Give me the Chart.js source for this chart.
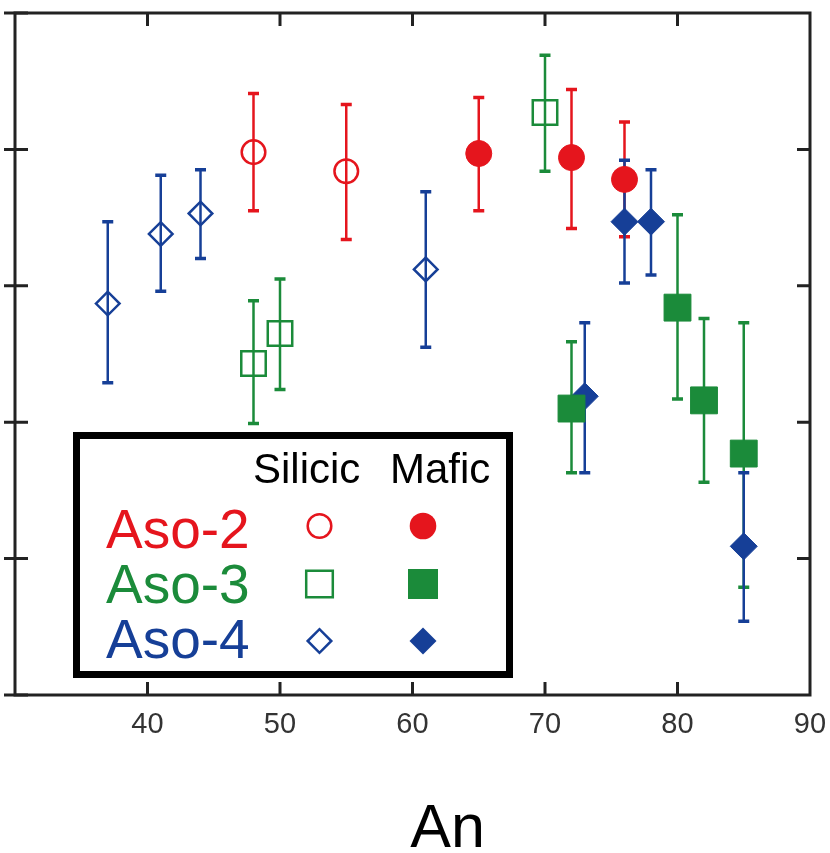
<!DOCTYPE html>
<html>
<head>
<meta charset="utf-8">
<script src="https://cdn.jsdelivr.net/npm/chart.js"></script>
<style>
  html, body { margin: 0; padding: 0; background: #fff; }
  #wrap { width: 830px; height: 853px; }
</style>
</head>
<body>
<div id="wrap"><canvas id="myChart" width="830" height="853"></canvas></div>
<script>
// values (y axis has no visible labels, 0..5 arbitrary units)
const xTickLabels = [40, 50, 60, 70, 80, 90];

const aso2SilicicX = [48, 55];
const aso2SilicicY = [3.98, 3.84];
const aso2SilicicLo = [3.55, 3.34];
const aso2SilicicHi = [4.41, 4.33];

const aso2MaficX = [65, 72, 76];
const aso2MaficY = [3.97, 3.94, 3.78];
const aso2MaficLo = [3.55, 3.42, 3.36];
const aso2MaficHi = [4.38, 4.44, 4.20];

const aso3SilicicX = [48, 50, 70];
const aso3SilicicY = [2.43, 2.65, 4.27];
const aso3SilicicLo = [1.99, 2.24, 3.84];
const aso3SilicicHi = [2.89, 3.05, 4.69];

const aso3MaficX = [72, 80, 82, 85];
const aso3MaficY = [2.10, 2.84, 2.16, 1.77];
const aso3MaficLo = [1.63, 2.17, 1.56, 0.79];
const aso3MaficHi = [2.59, 3.52, 2.76, 2.73];

const aso4SilicicX = [37, 41, 44, 61];
const aso4SilicicY = [2.87, 3.38, 3.53, 3.12];
const aso4SilicicLo = [2.29, 2.96, 3.20, 2.55];
const aso4SilicicHi = [3.47, 3.81, 3.85, 3.69];

const aso4MaficX = [73, 76, 78, 85];
const aso4MaficY = [2.19, 3.47, 3.47, 1.09];
const aso4MaficLo = [1.63, 3.02, 3.08, 0.54];
const aso4MaficHi = [2.73, 3.92, 3.85, 1.63];

const RED = "#e5151d";
const GREEN = "#1b8b3a";
const BLUE = "#163f97";
const FONT = "'Liberation Sans', Arial, sans-serif";

function points(xs, ys, lo, hi) {
  return xs.map((x, i) => ({ x: x, y: ys[i], lo: lo[i], hi: hi[i] }));
}

// error bars under the markers, frame/ticks/legend on top
const errorBars = {
  id: "errorBars",
  beforeDatasetsDraw(chart) {
    const { ctx, scales: { x, y } } = chart;
    ctx.save();
    chart.data.datasets.forEach(ds => {
      ctx.strokeStyle = ds.barColor;
      ds.data.forEach(p => {
        const px = x.getPixelForValue(p.x);
        const top = y.getPixelForValue(p.hi);
        const bot = y.getPixelForValue(p.lo);
        ctx.lineWidth = 2.5;
        ctx.beginPath();
        ctx.moveTo(px, top);
        ctx.lineTo(px, bot);
        ctx.stroke();
        ctx.lineWidth = 3.5;
        ctx.beginPath();
        ctx.moveTo(px - 5.5, top); ctx.lineTo(px + 5.5, top);
        ctx.moveTo(px - 5.5, bot); ctx.lineTo(px + 5.5, bot);
        ctx.stroke();
      });
    });
    ctx.restore();
  }
};

function marker(ctx, kind, filled, color, cx, cy) {
  ctx.save();
  ctx.fillStyle = color;
  ctx.strokeStyle = color;
  ctx.lineWidth = 2.5;
  ctx.beginPath();
  if (kind === "circle") {
    ctx.arc(cx, cy, filled ? 13.3 : 11.8, 0, Math.PI * 2);
  } else if (kind === "square") {
    const h = filled ? 15 : 13.3;
    ctx.rect(cx - h, cy - h, 2 * h, 2 * h);
  } else {
    const h = filled ? 13.5 : 11.8;
    ctx.moveTo(cx - h, cy); ctx.lineTo(cx, cy - h);
    ctx.lineTo(cx + h, cy); ctx.lineTo(cx, cy + h);
    ctx.closePath();
  }
  if (filled) ctx.fill(); else ctx.stroke();
  ctx.restore();
}

const frameAndLegend = {
  id: "frameAndLegend",
  afterDraw(chart) {
    const { ctx, chartArea: a, scales: { x, y } } = chart;
    ctx.save();
    ctx.strokeStyle = "#222";
    ctx.lineWidth = 3;
    ctx.strokeRect(a.left, a.top, a.right - a.left, a.bottom - a.top);
    ctx.beginPath();
    x.ticks.forEach(t => {
      if (t.value <= x.min || t.value >= x.max) return;
      const px = x.getPixelForValue(t.value);
      ctx.moveTo(px, a.bottom); ctx.lineTo(px, a.bottom - 13);
      ctx.moveTo(px, a.top); ctx.lineTo(px, a.top + 13);
    });
    y.ticks.forEach(t => {
      const py = y.getPixelForValue(t.value);
      ctx.moveTo(a.left - 11, py); ctx.lineTo(a.left + 13, py);
      if (t.value > y.min && t.value < y.max) {
        ctx.moveTo(a.right, py); ctx.lineTo(a.right - 13, py);
      }
    });
    ctx.stroke();

    // legend box
    ctx.fillStyle = "#fff";
    ctx.fillRect(76.5, 435.5, 433, 239);
    ctx.strokeStyle = "#000";
    ctx.lineWidth = 7;
    ctx.strokeRect(76.5, 435.5, 433, 239);

    ctx.fillStyle = "#000";
    ctx.textBaseline = "alphabetic";
    ctx.textAlign = "left";
    ctx.font = "42px " + FONT;
    ctx.fillText("Silicic", 253, 483);
    ctx.fillText("Mafic", 390, 483);

    const rows = [
      ["Aso-2", RED, "circle", 548, 526],
      ["Aso-3", GREEN, "square", 603, 584],
      ["Aso-4", BLUE, "diamond", 658, 641]
    ];
    ctx.font = "55px " + FONT;
    rows.forEach(r => {
      ctx.fillStyle = r[1];
      ctx.fillText(r[0], 106, r[3]);
      marker(ctx, r[2], false, r[1], 319.5, r[4]);
      marker(ctx, r[2], true, r[1], 423, r[4]);
    });

    // axis title
    ctx.fillStyle = "#000";
    ctx.textAlign = "center";
    ctx.font = "61px " + FONT;
    ctx.fillText("An", 447.5, 847);
    ctx.restore();
  }
};

function noPadding(s) {
  s.paddingLeft = 0;
  s.paddingRight = 0;
  s.paddingTop = 0;
  s.paddingBottom = 0;
}

const ctx = document.getElementById("myChart").getContext("2d");
const myChart = new Chart(ctx, {
  type: "scatter",
  data: {
    datasets: [
      {
        label: "Aso-2 Silicic",
        data: points(aso2SilicicX, aso2SilicicY, aso2SilicicLo, aso2SilicicHi),
        barColor: RED,
        pointStyle: "circle",
        pointRadius: 11.8,
        borderWidth: 2.5,
        borderColor: RED,
        backgroundColor: "rgba(0,0,0,0)"
      },
      {
        label: "Aso-2 Mafic",
        data: points(aso2MaficX, aso2MaficY, aso2MaficLo, aso2MaficHi),
        barColor: RED,
        pointStyle: "circle",
        pointRadius: 13,
        borderWidth: 1,
        borderColor: RED,
        backgroundColor: RED
      },
      {
        label: "Aso-3 Silicic",
        data: points(aso3SilicicX, aso3SilicicY, aso3SilicicLo, aso3SilicicHi),
        barColor: GREEN,
        pointStyle: "rect",
        pointRadius: 17.3,
        borderWidth: 2.5,
        borderColor: GREEN,
        backgroundColor: "rgba(0,0,0,0)"
      },
      {
        label: "Aso-3 Mafic",
        data: points(aso3MaficX, aso3MaficY, aso3MaficLo, aso3MaficHi),
        barColor: GREEN,
        pointStyle: "rect",
        pointRadius: 19,
        borderWidth: 1,
        borderColor: GREEN,
        backgroundColor: GREEN
      },
      {
        label: "Aso-4 Silicic",
        data: points(aso4SilicicX, aso4SilicicY, aso4SilicicLo, aso4SilicicHi),
        barColor: BLUE,
        pointStyle: "rectRot",
        pointRadius: 11.8,
        borderWidth: 2.5,
        borderColor: BLUE,
        backgroundColor: "rgba(0,0,0,0)"
      },
      {
        label: "Aso-4 Mafic",
        data: points(aso4MaficX, aso4MaficY, aso4MaficLo, aso4MaficHi),
        barColor: BLUE,
        pointStyle: "rectRot",
        pointRadius: 13.5,
        borderWidth: 1,
        borderColor: BLUE,
        backgroundColor: BLUE
      }
    ]
  },
  options: {
    responsive: false,
    animation: false,
    events: [],
    layout: { autoPadding: false, padding: { top: 13, right: 20, left: 0, bottom: 0 } },
    plugins: {
      legend: { display: false },
      tooltip: { enabled: false }
    },
    scales: {
      x: {
        type: "linear",
        min: 30,
        max: 90,
        grid: { display: false },
        border: { display: false },
        ticks: {
          stepSize: 10,
          padding: 5,
          color: "#333",
          font: { family: FONT, size: 29 },
          maxRotation: 0,
          callback: v => (xTickLabels.includes(v) ? String(v) : "")
        },
        afterFit: s => { s.height = 158; noPadding(s); }
      },
      y: {
        type: "linear",
        min: 0,
        max: 5,
        grid: { display: false },
        border: { display: false },
        ticks: { display: false, stepSize: 1 },
        afterFit: s => { s.width = 15; noPadding(s); }
      }
    }
  },
  plugins: [errorBars, frameAndLegend]
});
</script>
</body>
</html>
